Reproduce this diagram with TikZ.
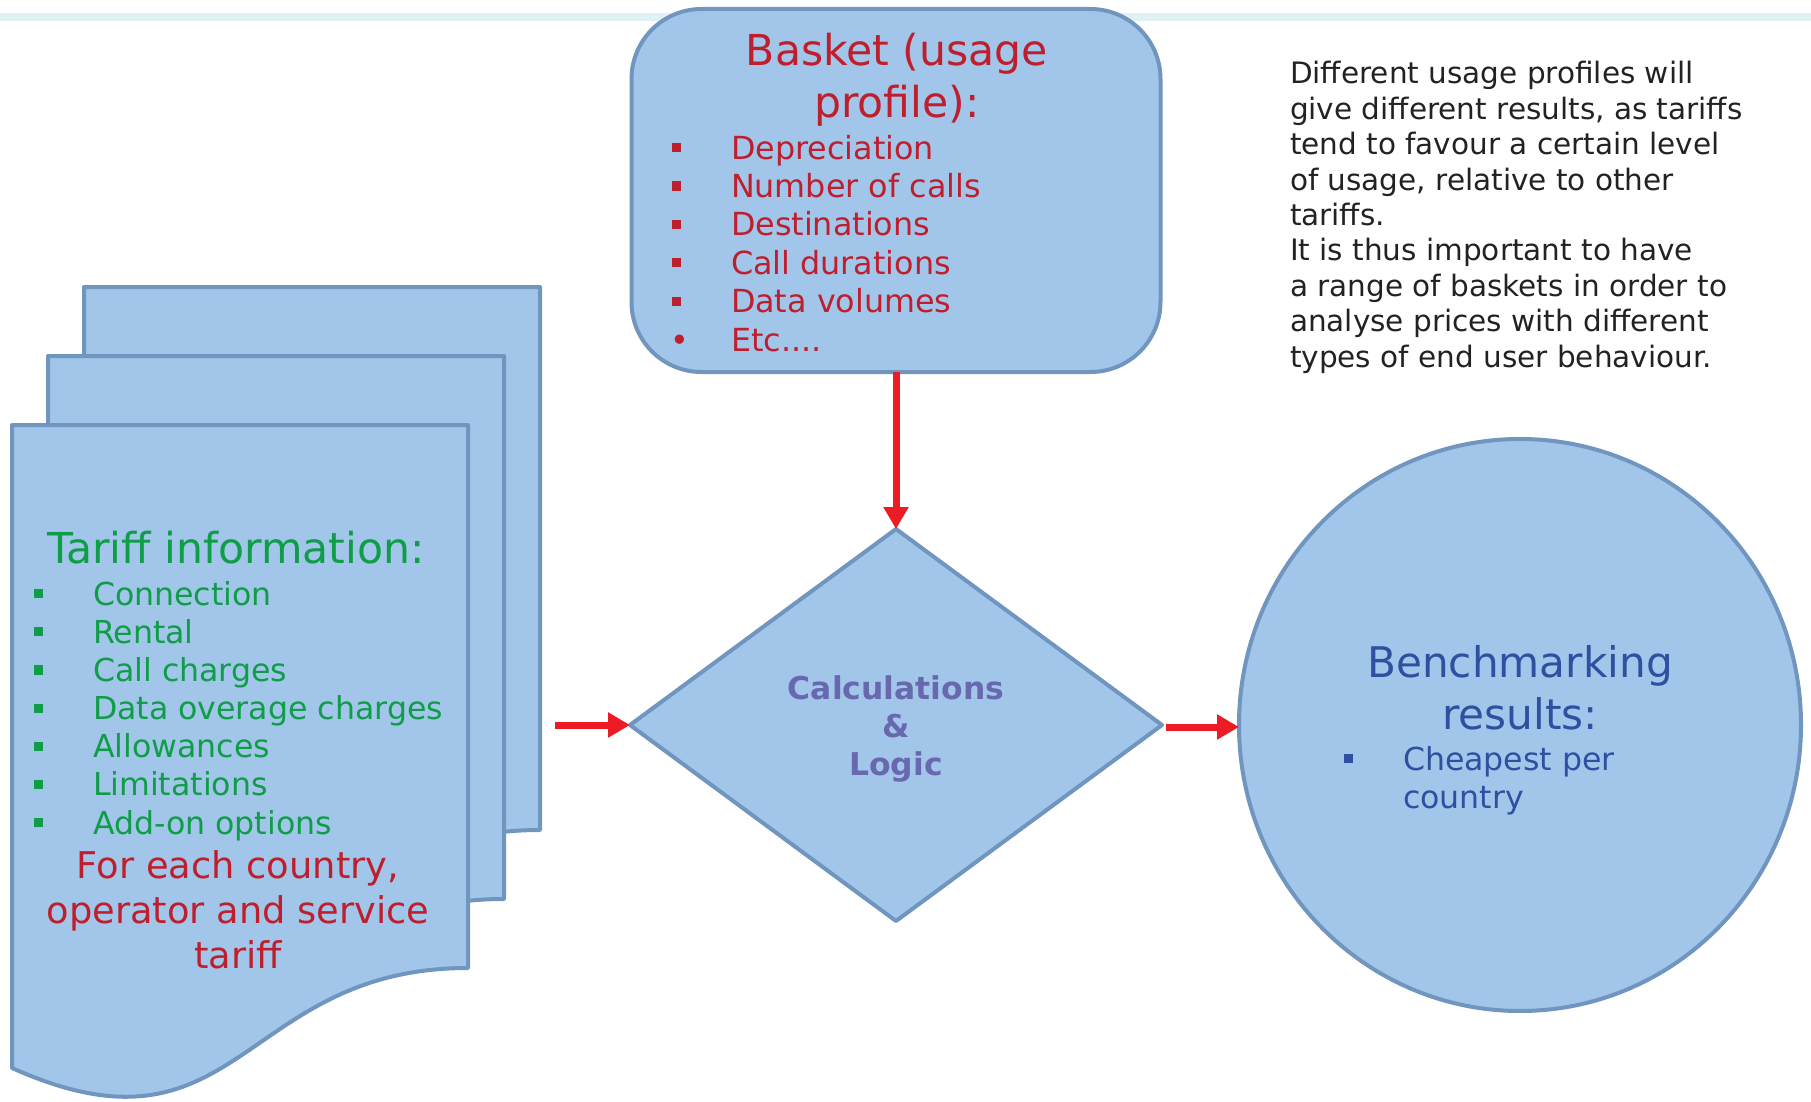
\documentclass[tikz,border=0pt]{standalone}
\usepackage{fontspec}
\setmainfont{DejaVu Sans}
\usetikzlibrary{shapes.geometric,arrows.meta}
\definecolor{boxfill}{HTML}{A2C6EA}
\definecolor{boxline}{HTML}{7095BF}
\definecolor{bandcol}{HTML}{E1F2F6}
\definecolor{redtxt}{HTML}{BF1E2D}
\definecolor{greentxt}{HTML}{0F9D48}
\definecolor{bluetxt}{HTML}{2F4FA0}
\definecolor{calctxt}{HTML}{6868AE}
\definecolor{arrowred}{HTML}{ED1C24}
\definecolor{paratxt}{HTML}{222222}
\newcommand\sqbul{\makebox[29.5pt][l]{\rule[3.4pt]{4.6pt}{4.6pt}}}
\newcommand\rdbul{\makebox[29.5pt][l]{\hspace{-0.6pt}\textbullet}}
\tikzset{
  shapebox/.style={draw=boxline, fill=boxfill, line width=2pt, line join=round},
  flow/.style={draw=arrowred, line width=3.5pt, -{Triangle[length=11pt,width=12pt]}},
  txt/.style={inner sep=0pt, outer sep=0pt},
}
\begin{document}
\begin{tikzpicture}[x=0.5pt,y=-0.5pt]
\useasboundingbox (0,0) rectangle (1811,1102);
\fill[bandcol] (0,13) rectangle (1811,21);

% stacked tariff pages
\draw[shapebox] (84,287) -- (540,287) -- (540,830) .. controls (312,830) and (312,1032) .. (84,930) -- cycle;
\draw[shapebox] (48,356) -- (504,356) -- (504,899) .. controls (276,899) and (276,1101) .. (48,999) -- cycle;
\draw[shapebox] (12,425) -- (468,425) -- (468,968) .. controls (240,968) and (240,1170) .. (12,1068) -- cycle;

% (anchor=base of a multi-line node = baseline of its last line)
\node[txt, anchor=base, font=\fontsize{21.3}{26}\selectfont, text=greentxt] (ttitle) at (236,563) {Tariff information:};
\node[txt, anchor=base west, font=\fontsize{15.8}{19.08}\selectfont, text=greentxt, align=left] (tlist) at (34,834)
  {\sqbul Connection\\\sqbul Rental\\\sqbul Call charges\\\sqbul Data overage charges\\\sqbul Allowances\\\sqbul Limitations\\\sqbul Add-on options};
\node[txt, anchor=base, font=\fontsize{18.4}{22.5}\selectfont, text=redtxt, align=center] (tnote) at (238,968)
  {For each country,\\operator and service\\tariff};

% basket
\node[shapebox, rounded corners=35pt, minimum width=264.5pt, minimum height=181.5pt, outer sep=0pt] (basket) at (896,190.5) {};
\node[txt, anchor=base, font=\fontsize{21.3}{26}\selectfont, text=redtxt, align=center] (btitle) at (897,118) {Basket (usage\\profile):};
\node[txt, anchor=base west, font=\fontsize{15.9}{19.2}\selectfont, text=redtxt, align=left] (blist) at (672,351)
  {\sqbul Depreciation\\\sqbul Number of calls\\\sqbul Destinations\\\sqbul Call durations\\\sqbul Data volumes\\\rdbul Etc....};

% explanation
\node[txt, anchor=base west, font=\fontsize{14.75}{17.7}\selectfont, text=paratxt, align=left] (para) at (1290,367)
  {Different usage profiles will\\give different results, as tariffs\\tend to favour a certain level\\of usage, relative to other\\tariffs.\\It is thus important to have\\a range of baskets in order to\\analyse prices with different\\types of end user behaviour.};

% decision
\node[diamond, shapebox, aspect=1.357, minimum width=266pt, minimum height=196pt, inner sep=0pt, outer sep=0pt] (calc) at (896,725) {};
\node[txt, align=center, text=calctxt, font=\fontsize{15.7}{18.8}\selectfont\bfseries] (calctext) at (896,729) {Calculations\\\&\\Logic};

% results
\node[ellipse, shapebox, minimum width=281pt, minimum height=286pt, inner sep=0pt, outer sep=0pt] (res) at (1520,725) {};
\node[txt, anchor=base, font=\fontsize{21.1}{26}\selectfont, text=bluetxt, align=center] (rtitle) at (1520,729) {Benchmarking\\results:};
\node[txt, anchor=base west, font=\fontsize{15.8}{19}\selectfont, text=bluetxt, align=left] (rlist) at (1344,808)
  {\sqbul Cheapest per\\\hspace*{29.5pt}country};

% connectors
\coordinate (lin) at (555,725);
\draw[flow] (basket.south) -- (calc.north);
\draw[flow] (lin) -- (calc.west);
\draw[flow] ([xshift=2pt,yshift=-1pt]calc.east) -- ([yshift=-1pt]calc.east -| res.west);
\end{tikzpicture}
\end{document}
